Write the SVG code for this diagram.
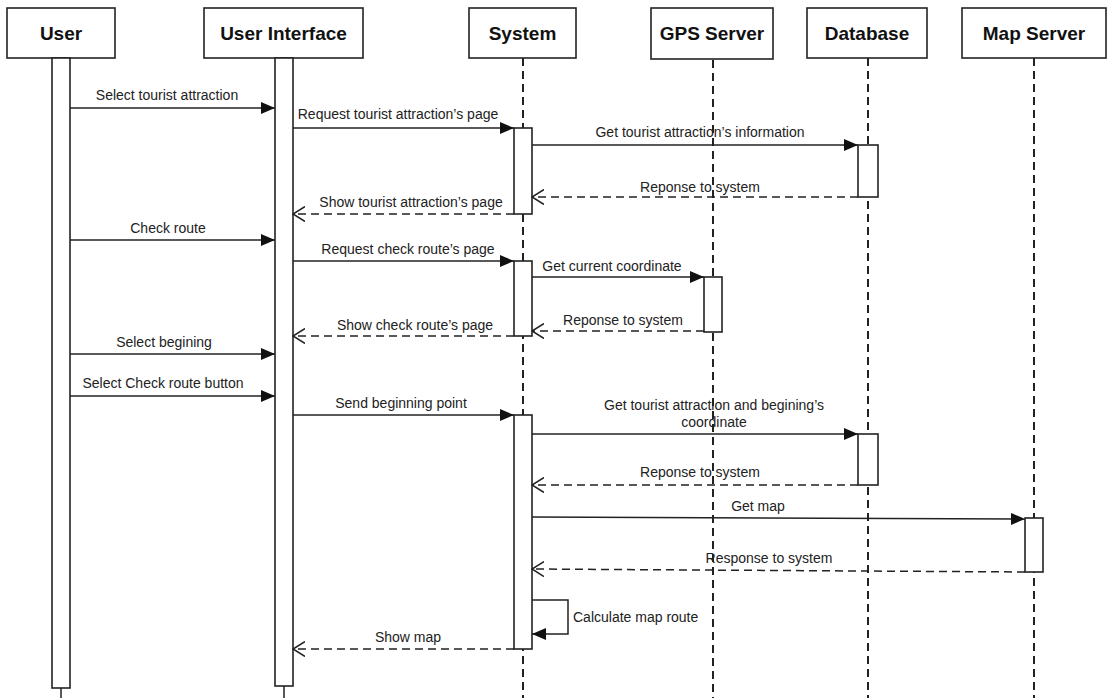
<svg xmlns="http://www.w3.org/2000/svg" width="1109" height="698" viewBox="0 0 1109 698">
<style>
.hdr{fill:#fff;stroke:#222;stroke-width:1.6}
.ht{font-family:"Liberation Sans",Arial,sans-serif;font-weight:bold;font-size:19px;fill:#111;text-anchor:middle}
.bar{fill:#fff;stroke:#222;stroke-width:1.6}
.life{stroke:#222;stroke-width:2;stroke-dasharray:8 5;fill:none}
.msg{stroke:#222;stroke-width:1.5;fill:none}
.ret{stroke:#222;stroke-width:1.5;fill:none;stroke-dasharray:8 5}
.lb{font-family:"Liberation Sans",Arial,sans-serif;font-size:14px;fill:#222;text-anchor:middle}
</style>
<defs>
<marker id="sync" viewBox="0 0 14 12" refX="14" refY="6" markerWidth="14" markerHeight="12" markerUnits="userSpaceOnUse" orient="auto">
<path d="M0,0 L14,6 L0,12 Z" fill="#111"/>
</marker>
<marker id="open" viewBox="0 0 13 16" refX="12" refY="8" markerWidth="13" markerHeight="16" markerUnits="userSpaceOnUse" orient="auto">
<path d="M0,0.5 L12,8 L0,15.5" fill="none" stroke="#222" stroke-width="1.5"/>
</marker>
</defs>
<rect width="1109" height="698" fill="#fff"/>

<g id="lifelines">
<line class="life" x1="523" y1="58" x2="523" y2="698"/>
<line class="life" x1="713" y1="60" x2="713" y2="698"/>
<line class="life" x1="868" y1="58" x2="868" y2="698"/>
<line class="life" x1="1034" y1="58" x2="1034" y2="698"/>
<line class="msg" x1="61" y1="688" x2="61" y2="698"/>
<line class="msg" x1="284" y1="686" x2="284" y2="698"/>
</g>

<g id="user">
<rect class="hdr" x="7" y="8" width="108" height="50"/>
<text class="ht" x="61" y="40">User</text>
<rect class="bar" x="52" y="58" width="18" height="630"/>
</g>
<g id="ui">
<rect class="hdr" x="204" y="8" width="159" height="50"/>
<text class="ht" x="283.5" y="40">User Interface</text>
<rect class="bar" x="275" y="58" width="18" height="628"/>
</g>
<g id="system">
<rect class="hdr" x="469" y="8" width="107" height="50"/>
<text class="ht" x="522.5" y="40">System</text>
<rect class="bar" x="514" y="128" width="18" height="86"/>
<rect class="bar" x="514" y="261" width="18" height="75"/>
<rect class="bar" x="514" y="415" width="18" height="234"/>
</g>
<g id="gps">
<rect class="hdr" x="651" y="8" width="122" height="51"/>
<text class="ht" x="712" y="40">GPS Server</text>
<rect class="bar" x="704" y="277" width="18" height="55"/>
</g>
<g id="database">
<rect class="hdr" x="807" y="8" width="120" height="50"/>
<text class="ht" x="867" y="40">Database</text>
<rect class="bar" x="858" y="145" width="20" height="52"/>
<rect class="bar" x="858" y="434" width="20" height="51"/>
</g>
<g id="mapserver">
<rect class="hdr" x="962" y="8" width="144" height="50"/>
<text class="ht" x="1034" y="40">Map Server</text>
<rect class="bar" x="1025" y="518" width="18" height="54"/>
</g>

<g id="connectors">
<line class="msg" x1="70" y1="108" x2="275" y2="108" marker-end="url(#sync)"/>
<line class="msg" x1="293" y1="128" x2="514" y2="128" marker-end="url(#sync)"/>
<line class="msg" x1="532" y1="145" x2="858" y2="145" marker-end="url(#sync)"/>
<line class="ret" x1="858" y1="197" x2="532" y2="197" marker-end="url(#open)"/>
<line class="ret" x1="514" y1="214" x2="293" y2="214" marker-end="url(#open)"/>
<line class="msg" x1="70" y1="240" x2="275" y2="240" marker-end="url(#sync)"/>
<line class="msg" x1="293" y1="261" x2="514" y2="261" marker-end="url(#sync)"/>
<line class="msg" x1="532" y1="277" x2="704" y2="277" marker-end="url(#sync)"/>
<line class="ret" x1="704" y1="331" x2="532" y2="331" marker-end="url(#open)"/>
<line class="ret" x1="514" y1="336" x2="293" y2="336" marker-end="url(#open)"/>
<line class="msg" x1="70" y1="354" x2="275" y2="354" marker-end="url(#sync)"/>
<line class="msg" x1="70" y1="396" x2="275" y2="396" marker-end="url(#sync)"/>
<line class="msg" x1="293" y1="415" x2="514" y2="415" marker-end="url(#sync)"/>
<line class="msg" x1="532" y1="434" x2="858" y2="434" marker-end="url(#sync)"/>
<line class="ret" x1="858" y1="485" x2="532" y2="485" marker-end="url(#open)"/>
<line class="msg" x1="532" y1="517" x2="1025" y2="519" marker-end="url(#sync)"/>
<line class="ret" x1="1025" y1="572" x2="532" y2="569" marker-end="url(#open)"/>
<polyline class="msg" points="532,600 568,600 568,634 532,634" marker-end="url(#sync)"/>
<line class="ret" x1="514" y1="649" x2="293" y2="649" marker-end="url(#open)"/>
</g>

<g id="labels">
<text class="lb" x="167" y="100">Select tourist attraction</text>
<text class="lb" x="398" y="119">Request tourist attraction’s page</text>
<text class="lb" x="700" y="137">Get tourist attraction’s information</text>
<text class="lb" x="700" y="192">Reponse to system</text>
<text class="lb" x="411" y="207">Show tourist attraction’s page</text>
<text class="lb" x="168" y="233">Check route</text>
<text class="lb" x="408" y="254">Request check route’s page</text>
<text class="lb" x="612" y="271">Get current coordinate</text>
<text class="lb" x="623" y="325">Reponse to system</text>
<text class="lb" x="415" y="330">Show check route’s page</text>
<text class="lb" x="164" y="347">Select begining</text>
<text class="lb" x="163" y="388">Select Check route button</text>
<text class="lb" x="401" y="408">Send beginning point</text>
<text class="lb" x="714" y="410">Get tourist attraction and begining’s</text>
<text class="lb" x="714" y="427">coordinate</text>
<text class="lb" x="700" y="477">Reponse to system</text>
<text class="lb" x="758" y="511">Get map</text>
<text class="lb" x="769" y="563">Response to system</text>
<text class="lb" x="573" y="622" style="text-anchor:start">Calculate map route</text>
<text class="lb" x="408" y="642">Show map</text>
</g>
</svg>
